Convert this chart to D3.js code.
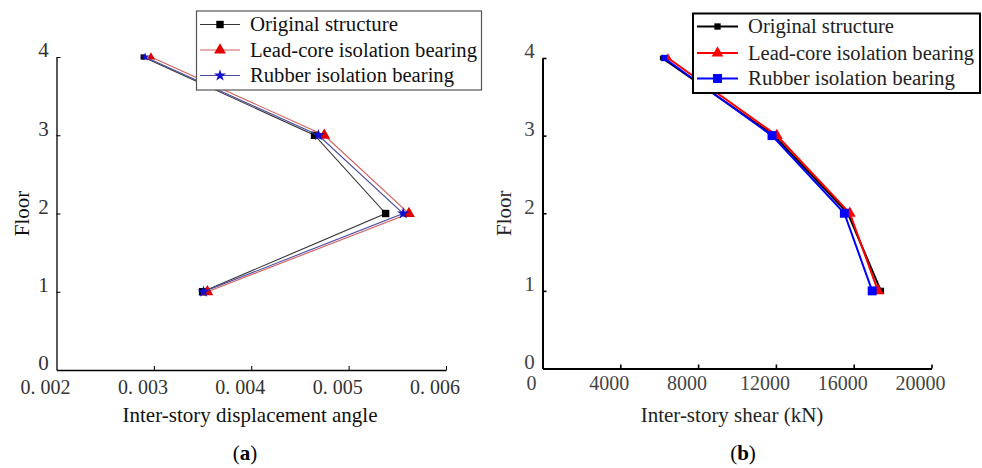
<!DOCTYPE html>
<html><head><meta charset="utf-8">
<script src="https://cdn.jsdelivr.net/npm/d3@7"></script>
<style>html,body{margin:0;padding:0;background:#fff;}svg{display:block;}</style>
</head><body>
<svg id="c" width="982" height="468"></svg>
<script>
const floors = [1, 2, 3, 4];
const seriesNames = ["Original structure", "Lead-core isolation bearing", "Rubber isolation bearing"];
// Panel (a): inter-story displacement angle
const angleOriginal = [0.00350, 0.00538, 0.00465, 0.00289];
const angleLead     = [0.00355, 0.00562, 0.00475, 0.00297];
const angleRubber   = [0.00351, 0.00556, 0.00469, 0.00291];
// Panel (b): inter-story shear (kN)
const shearOriginal = [17400, 15700, 11900, 6150];
const shearLead     = [17250, 15800, 12050, 6450];
const shearRubber   = [16950, 15520, 11800, 6250];
const xTicksA = [0.002, 0.003, 0.004, 0.005, 0.006];
const xTickLabelsA = ["0. 002", "0. 003", "0. 004", "0. 005", "0. 006"];
const xTicksB = [0, 4000, 8000, 12000, 16000, 20000];
const yTicks = [0, 1, 2, 3, 4];

const svg = d3.select("#c");
const serif = "'Liberation Serif','Times New Roman',serif";

function panel(opt) {
  const g = svg.append("g");
  const x = d3.scaleLinear().domain(opt.xDomain).range([opt.left, opt.right]);
  const y = d3.scaleLinear().domain([0, 4]).range([opt.bottom, opt.top]);

  const xa = g.append("g").attr("transform", `translate(0,${opt.bottom})`)
    .call(d3.axisBottom(x).tickValues(opt.xTicks).tickSizeInner(-opt.tick).tickSizeOuter(0).tickFormat(""));
  const ya = g.append("g").attr("transform", `translate(${opt.left},0)`)
    .call(d3.axisLeft(y).tickValues(yTicks).tickSizeInner(-opt.tick).tickSizeOuter(0).tickFormat(""));
  [xa, ya].forEach(a => {
    a.select(".domain").attr("stroke", "#000").attr("stroke-width", opt.axisW);
    a.selectAll(".tick line").attr("stroke", "#000").attr("stroke-width", opt.axisW * 0.8);
  });
  ya.selectAll(".tick").filter(d => d === 0).remove();
  xa.selectAll(".tick").filter((d, i) => i === 0).remove();

  g.append("g").selectAll("text").data(opt.xTicks).join("text")
    .attr("x", d => x(d) - 11).attr("y", opt.bottom + opt.xlabDy)
    .attr("text-anchor", "middle").attr("font-family", serif).attr("font-size", opt.tickFs)
    .attr("fill", opt.labelColor)
    .text((d, i) => opt.xLabels[i]);
  g.append("g").selectAll("text").data(yTicks).join("text")
    .attr("x", opt.left - 13).attr("y", d => y(d) - 7).attr("dy", "0.35em")
    .attr("text-anchor", "middle").attr("font-family", serif).attr("font-size", 21)
    .attr("fill", opt.labelColor).text(d => d);

  g.append("text").attr("x", opt.xTitleX).attr("y", 422).attr("text-anchor", "middle")
    .attr("font-family", serif).attr("font-size", opt.titleFs).attr("fill", opt.titleColor).text(opt.xTitle);
  g.append("text").attr("transform", `translate(${opt.yTitleX},${y(2)}) rotate(-90)`)
    .attr("text-anchor", "middle").attr("dy", "0.35em")
    .attr("font-family", serif).attr("font-size", 21).attr("fill", opt.titleColor).text("Floor");
  const cap = g.append("text").attr("x", opt.capX).attr("y", 460).attr("text-anchor", "middle")
    .attr("font-family", serif).attr("font-size", 21).attr("fill", "#000");
  cap.append("tspan").text("(");
  cap.append("tspan").attr("font-weight", "bold").text(opt.cap);
  cap.append("tspan").text(")");

  const line = d3.line().x(d => x(d.v)).y(d => y(d.f));
  opt.series.forEach(s => {
    const pts = floors.map((f, i) => ({f, v: s.values[i]}));
    g.append("path").datum(pts).attr("d", line).attr("fill", "none")
      .attr("stroke", s.lineColor).attr("stroke-width", opt.lineW);
    g.append("g").selectAll("path").data(pts).join("path")
      .attr("transform", d => `translate(${x(d.v)},${y(d.f)})`)
      .attr("d", d3.symbol().type(s.symbol).size(d => d.f === 4 ? s.size * 0.5 : s.size))
      .attr("fill", s.markColor);
  });

  const lg = g.append("g");
  lg.append("rect").attr("x", opt.leg.x).attr("y", opt.leg.y).attr("width", opt.leg.w).attr("height", opt.leg.h)
    .attr("fill", "#fff").attr("stroke", opt.leg.stroke).attr("stroke-width", opt.leg.sw);
  opt.series.forEach((s, i) => {
    const yy = opt.leg.rows[i];
    lg.append("line").attr("x1", opt.leg.lx1).attr("x2", opt.leg.lx2).attr("y1", yy).attr("y2", yy)
      .attr("stroke", s.lineColor).attr("stroke-width", opt.lineW);
    lg.append("path").attr("transform", `translate(${(opt.leg.lx1 + opt.leg.lx2) / 2},${yy})`)
      .attr("d", d3.symbol().type(s.symbol).size(s.size)).attr("fill", s.markColor);
    lg.append("text").attr("x", opt.leg.tx).attr("y", yy).attr("dy", "0.33em")
      .attr("font-family", serif).attr("font-size", opt.leg.fs).attr("fill", opt.titleColor)
      .attr("textLength", opt.leg.tl[i]).attr("lengthAdjust", "spacingAndGlyphs")
      .text(seriesNames[i]);
  });
}

panel({
  xDomain: [0.002, 0.006], left: 56.5, right: 446, top: 57, bottom: 370,
  xTicks: xTicksA, xLabels: xTickLabelsA, xlabDy: 24, tick: 4, axisW: 1.3, lineW: 1.1,
  labelColor: "#333", titleColor: "#111", tickFs: 20, titleFs: 21,
  xTitle: "Inter-story displacement angle", xTitleX: 250, yTitleX: 22, capX: 245, cap: "a",
  series: [
    {values: angleOriginal, lineColor: "#333", markColor: "#000", symbol: d3.symbolSquare, size: 55},
    {values: angleLead, lineColor: "#d06060", markColor: "#e00000", symbol: d3.symbolTriangle, size: 60},
    {values: angleRubber, lineColor: "#4a4aa0", markColor: "#1010d0", symbol: d3.symbolStar, size: 45}
  ],
  leg: {x: 196.5, y: 11, w: 285, h: 79, stroke: "#555", sw: 1.2, rows: [24.5, 50, 75.5],
        lx1: 200, lx2: 240, tx: 250, fs: 20, tl: [148, 227, 204]}
});

panel({
  xDomain: [0, 20000], left: 542.5, right: 931.5, top: 58, bottom: 368.5,
  xTicks: xTicksB, xLabels: xTicksB.map(String), xlabDy: 21, tick: 4, axisW: 2, lineW: 2,
  labelColor: "#444", titleColor: "#222", tickFs: 20, titleFs: 21,
  xTitle: "Inter-story shear (kN)", xTitleX: 732, yTitleX: 504, capX: 743, cap: "b",
  series: [
    {values: shearOriginal, lineColor: "#000", markColor: "#000", symbol: d3.symbolSquare, size: 40},
    {values: shearLead, lineColor: "#ff0000", markColor: "#ff0000", symbol: d3.symbolTriangle, size: 60},
    {values: shearRubber, lineColor: "#0000ff", markColor: "#0000ff", symbol: d3.symbolSquare, size: 80}
  ],
  leg: {x: 693, y: 13.5, w: 287, h: 79.5, stroke: "#000", sw: 2, rows: [26.5, 53, 78.5],
        lx1: 697, lx2: 738, tx: 748, fs: 20, tl: [146, 226, 207]}
});
</script>
</body></html>
